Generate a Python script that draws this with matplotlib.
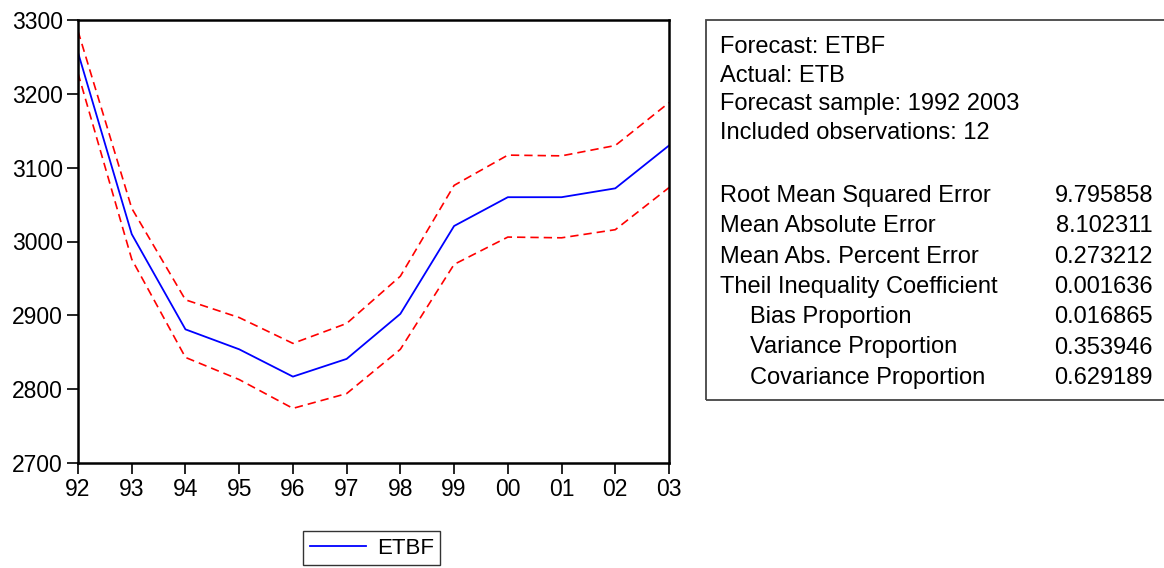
import matplotlib
matplotlib.use("Agg")
import matplotlib.pyplot as plt
from matplotlib.patches import Rectangle

plt.rcParams['font.family'] = ['Liberation Sans', 'DejaVu Sans']

# ======= Data =======
years = ["92", "93", "94", "95", "96", "97", "98", "99", "00", "01", "02", "03"]
etbf = [3256, 3010, 2881, 2854, 2817, 2841, 2902, 3021, 3060, 3060, 3072, 3130]
upper = [3285, 3045, 2921, 2897, 2862, 2889, 2953, 3076, 3117, 3116, 3130, 3188]
lower = [3228, 2976, 2843, 2813, 2774, 2794, 2854, 2969, 3006, 3005, 3016, 3073]

header = ["Forecast: ETBF", "Actual: ETB", "Forecast sample: 1992 2003",
          "Included observations: 12"]
stat_names = ["Root Mean Squared Error", "Mean Absolute Error",
              "Mean Abs. Percent Error", "Theil Inequality Coefficient",
              "Bias Proportion", "Variance Proportion", "Covariance Proportion"]
stat_values = ["9.795858", "8.102311", "0.273212", "0.001636",
               "0.016865", "0.353946", "0.629189"]
stat_indent = [False, False, False, False, True, True, True]

W, H = 1164, 568
fs = 17
fig = plt.figure(figsize=(W / 100, H / 100), dpi=100)
ax = fig.add_axes([78 / W, 1 - 463 / H, (669 - 78) / W, (463 - 20) / H])

x = list(range(len(years)))
ax.plot(x, etbf, color="blue", lw=1.3, label="ETBF")
ax.plot(x, upper, color="red", lw=1.2, ls=(0, (5, 3)))
ax.plot(x, lower, color="red", lw=1.2, ls=(0, (5, 3)))

ax.set_xlim(0, len(years) - 1)
ax.set_ylim(2700, 3300)
ax.set_xticks(x)
ax.set_xticklabels(years)
ax.set_yticks(range(2700, 3301, 100))
ax.tick_params(direction="out", length=8, width=1.2, labelsize=16.5, pad=3)
for s in ax.spines.values():
    s.set_linewidth(1.8)

leg = fig.legend(loc="center", bbox_to_anchor=(372 / W, 1 - 548 / H), fontsize=16,
                 frameon=True, fancybox=False, edgecolor="black",
                 handlelength=2.5, borderpad=0.3, handletextpad=0.5)
leg.get_frame().set_linewidth(1.0)

# ======= Statistics box =======
fig.patches.append(Rectangle((706 / W, 1 - 400 / H), 470 / W, 380 / H,
                             transform=fig.transFigure, fill=False,
                             edgecolor="#444444", lw=1.3))
y = 47
for line in header:
    fig.text(720 / W, 1 - y / H, line, fontsize=fs, va="center", ha="left")
    y += 28.7
y = 196
for name, val, ind in zip(stat_names, stat_values, stat_indent):
    fig.text((750 if ind else 720) / W, 1 - y / H, name, fontsize=fs, va="center")
    fig.text(1153 / W, 1 - y / H, val, fontsize=fs, va="center", ha="right")
    y += 30.3

fig.savefig("out.png", dpi=100)
